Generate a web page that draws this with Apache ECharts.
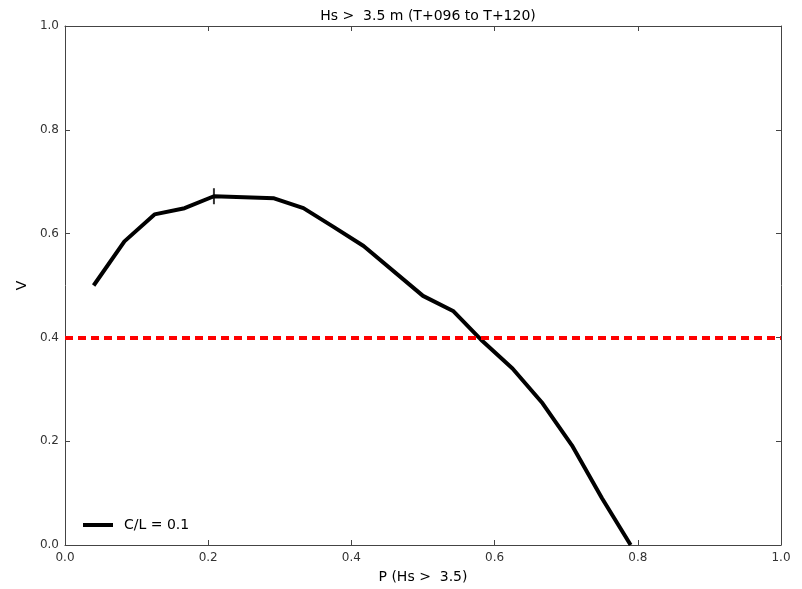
<!DOCTYPE html>
<html><head><meta charset="utf-8">
<script src="https://cdn.jsdelivr.net/npm/echarts@6/dist/echarts.min.js"></script>
<style>html,body{margin:0;padding:0;background:#fff}#c{width:802px;height:589px}</style>
</head><body><div id="c"></div>
<script>
const pValues = [0.04, 0.083, 0.125, 0.167, 0.208, 0.292, 0.333, 0.375, 0.417, 0.5, 0.542, 0.583, 0.625, 0.667, 0.708, 0.75, 0.79];
const vValues = [0.5, 0.585, 0.637, 0.649, 0.672, 0.668, 0.649, 0.613, 0.576, 0.48, 0.451, 0.393, 0.34, 0.273, 0.192, 0.09, 0.0];
const maxPoint = [0.208, 0.672];
const threshold = 0.4;
const titleText = 'Hs >  3.5 m (T+096 to T+120)';
const xName = 'P (Hs >  3.5)';
const yName = 'V';
const legendName = 'C/L = 0.1';

const font = 'DejaVu Sans';
const chart = echarts.init(document.getElementById('c'), null, {renderer: 'canvas'});
const lineData = pValues.map((p, i) => [p, vValues[i]]);
function axisCommon() {
  return {
    type: 'value', min: 0, max: 1, interval: 0.2,
    axisLine: {show: true, onZero: false, lineStyle: {color: '#444', width: 1}},
    axisTick: {show: true, inside: true, length: 5, lineStyle: {color: '#444'}},
    splitLine: {show: false}
  };
}
chart.setOption({
  animation: false,
  backgroundColor: '#fff',
  title: {text: titleText, left: 423, top: 4, textAlign: 'center',
    textStyle: {fontFamily: font, fontSize: 14, fontWeight: 'normal', color: '#000'}},
  grid: {left: 65, right: 21, top: 26, bottom: 42},
  legend: {
    left: 78, top: 513, data: [legendName], itemWidth: 30, itemHeight: 4, itemGap: 10,
    textStyle: {fontFamily: font, fontSize: 14, color: '#000', padding: [0,0,0,6]},
    icon: 'rect'
  },
  xAxis: [
    Object.assign(axisCommon(), {position: 'bottom', name: xName, nameLocation: 'middle', nameGap: 25,
      nameTextStyle: {fontFamily: font, fontSize: 14, color: '#000'},
      axisLabel: {fontFamily: font, fontSize: 12, color: '#333', margin: 7, formatter: v => v.toFixed(1)}}),
    Object.assign(axisCommon(), {position: 'top', axisLabel: {show: false}})
  ],
  yAxis: [
    Object.assign(axisCommon(), {position: 'left', name: yName, nameLocation: 'middle', nameGap: 34,
      nameTextStyle: {fontFamily: font, fontSize: 14, color: '#000'},
      axisLabel: {fontFamily: font, fontSize: 12, color: '#333', margin: 6, formatter: v => v.toFixed(1)}}),
    Object.assign(axisCommon(), {position: 'right', axisLabel: {show: false}})
  ],
  series: [
    {
      name: legendName, type: 'line', data: lineData, showSymbol: false, symbol: 'none',
      lineStyle: {color: '#000', width: 4}, itemStyle: {color: '#000'}, clip: true,
      markLine: {
        silent: true, symbol: 'none', label: {show: false},
        lineStyle: {color: '#ff0000', width: 4, type: [8, 5]},
        data: [{yAxis: threshold}]
      }
    },
    {
      type: 'scatter', data: [maxPoint], symbol: 'rect', symbolSize: [2, 16],
      itemStyle: {color: '#000'}, silent: true, z: 5
    }
  ]
});
</script></body></html>
